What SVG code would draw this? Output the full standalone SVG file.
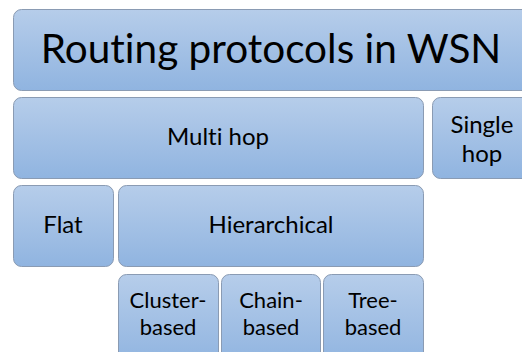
<svg xmlns="http://www.w3.org/2000/svg" width="522" height="352" viewBox="0 0 522 352">
  <defs>
    <linearGradient id="fill" x1="0" y1="0" x2="0" y2="1">
      <stop offset="0" stop-color="#b6cdea"/>
      <stop offset="1" stop-color="#90b4e0"/>
    </linearGradient>
    <style>
      .box { fill: url(#fill); stroke: #8a9bb3; stroke-width: 1; }
      text { font-family: Lato, "Open Sans", "Liberation Sans", sans-serif; fill: #000; text-anchor: middle;
             font-variant-ligatures: none; font-feature-settings: "liga" 0; }
      .title { font-size: 40.5px; }
      .lbl { font-size: 24px; }
      .sm { font-size: 22px; }
    </style>
  </defs>

  <g id="root">
    <rect class="box" x="13.5" y="9.5" width="530" height="81" rx="8"/>
    <text class="title" x="271" y="63">Routing protocols in WSN</text>
  </g>

  <g id="multi-hop">
    <rect class="box" x="13.5" y="97.5" width="410" height="81" rx="8"/>
    <text class="lbl" x="218" y="145">Multi hop</text>
  </g>

  <g id="single-hop">
    <rect class="box" x="432.5" y="97.5" width="110" height="81" rx="8"/>
    <text class="lbl" x="482" y="133"><tspan x="482">Single</tspan><tspan x="482" dy="29">hop</tspan></text>
  </g>

  <g id="flat">
    <rect class="box" x="13.5" y="185.5" width="100" height="81" rx="8"/>
    <text class="lbl" x="63" y="233">Flat</text>
  </g>

  <g id="hierarchical">
    <rect class="box" x="118.5" y="185.5" width="305" height="81" rx="8"/>
    <text class="lbl" x="271" y="233">Hierarchical</text>
  </g>

  <g id="cluster-based">
    <rect class="box" x="118.5" y="274.5" width="100" height="90" rx="8"/>
    <text class="sm" x="168" y="308"><tspan x="168">Cluster-</tspan><tspan x="168" dy="27">based</tspan></text>
  </g>

  <g id="chain-based">
    <rect class="box" x="221.5" y="274.5" width="99" height="90" rx="8"/>
    <text class="sm" x="271" y="308"><tspan x="271">Chain-</tspan><tspan x="271" dy="27">based</tspan></text>
  </g>

  <g id="tree-based">
    <rect class="box" x="323.5" y="274.5" width="100" height="90" rx="8"/>
    <text class="sm" x="373" y="308"><tspan x="373">Tree-</tspan><tspan x="373" dy="27">based</tspan></text>
  </g>

  <g id="connectors"/>
</svg>
